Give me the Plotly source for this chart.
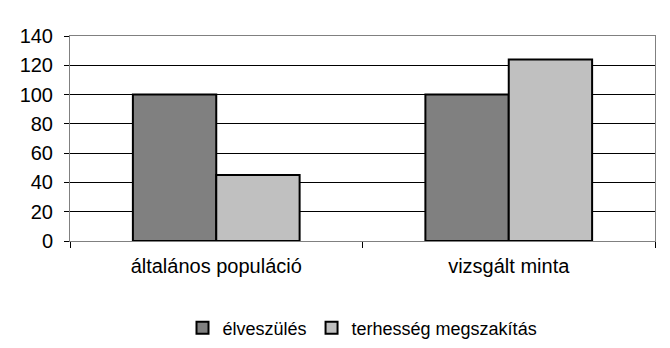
import plotly.graph_objects as go

categories = ["általános populáció", "vizsgált minta"]
elveszules = [100, 100]
terhesseg = [45, 124]
series_names = ["élveszülés", "terhesség megszakítás"]
tick_vals = [0, 20, 40, 60, 80, 100, 120, 140]

fig = go.Figure()
fig.add_trace(go.Bar(x=categories, y=elveszules, name=series_names[0],
                     marker=dict(color="#808080", line=dict(color="black", width=2))))
fig.add_trace(go.Bar(x=categories, y=terhesseg, name=series_names[1],
                     marker=dict(color="#C0C0C0", line=dict(color="black", width=2))))

fam = "Liberation Sans, Arial, sans-serif"
font = dict(family=fam, size=20, color="black")
fig.update_layout(
    width=670, height=348,
    margin=dict(l=70, r=15, t=36, b=107, autoexpand=False),
    paper_bgcolor="white", plot_bgcolor="white",
    barmode="group", bargap=0.43, bargroupgap=0,
    font=font,
    showlegend=True,
    legend=dict(orientation="h", x=0.5, xanchor="center", yref="container",
                y=0.057, yanchor="middle",
                font=dict(family=fam, size=18, color="black"),
                traceorder="normal", itemwidth=30),
    xaxis=dict(showline=True, linecolor="#808080", linewidth=1, mirror=True,
               ticks="outside", ticklen=6, tickcolor="black", tickson="boundaries",
               showgrid=False, tickfont=font, ticklabelstandoff=7),
    yaxis=dict(range=[0, 140], tickvals=tick_vals, showline=True, linecolor="#808080",
               linewidth=1, mirror=True, ticks="outside", ticklen=5, tickcolor="black",
               showgrid=True, gridcolor="black", gridwidth=1, zeroline=True,
               zerolinecolor="black", zerolinewidth=1, tickfont=font,
               ticklabelstandoff=7),
)

fig.write_html("out.html")
